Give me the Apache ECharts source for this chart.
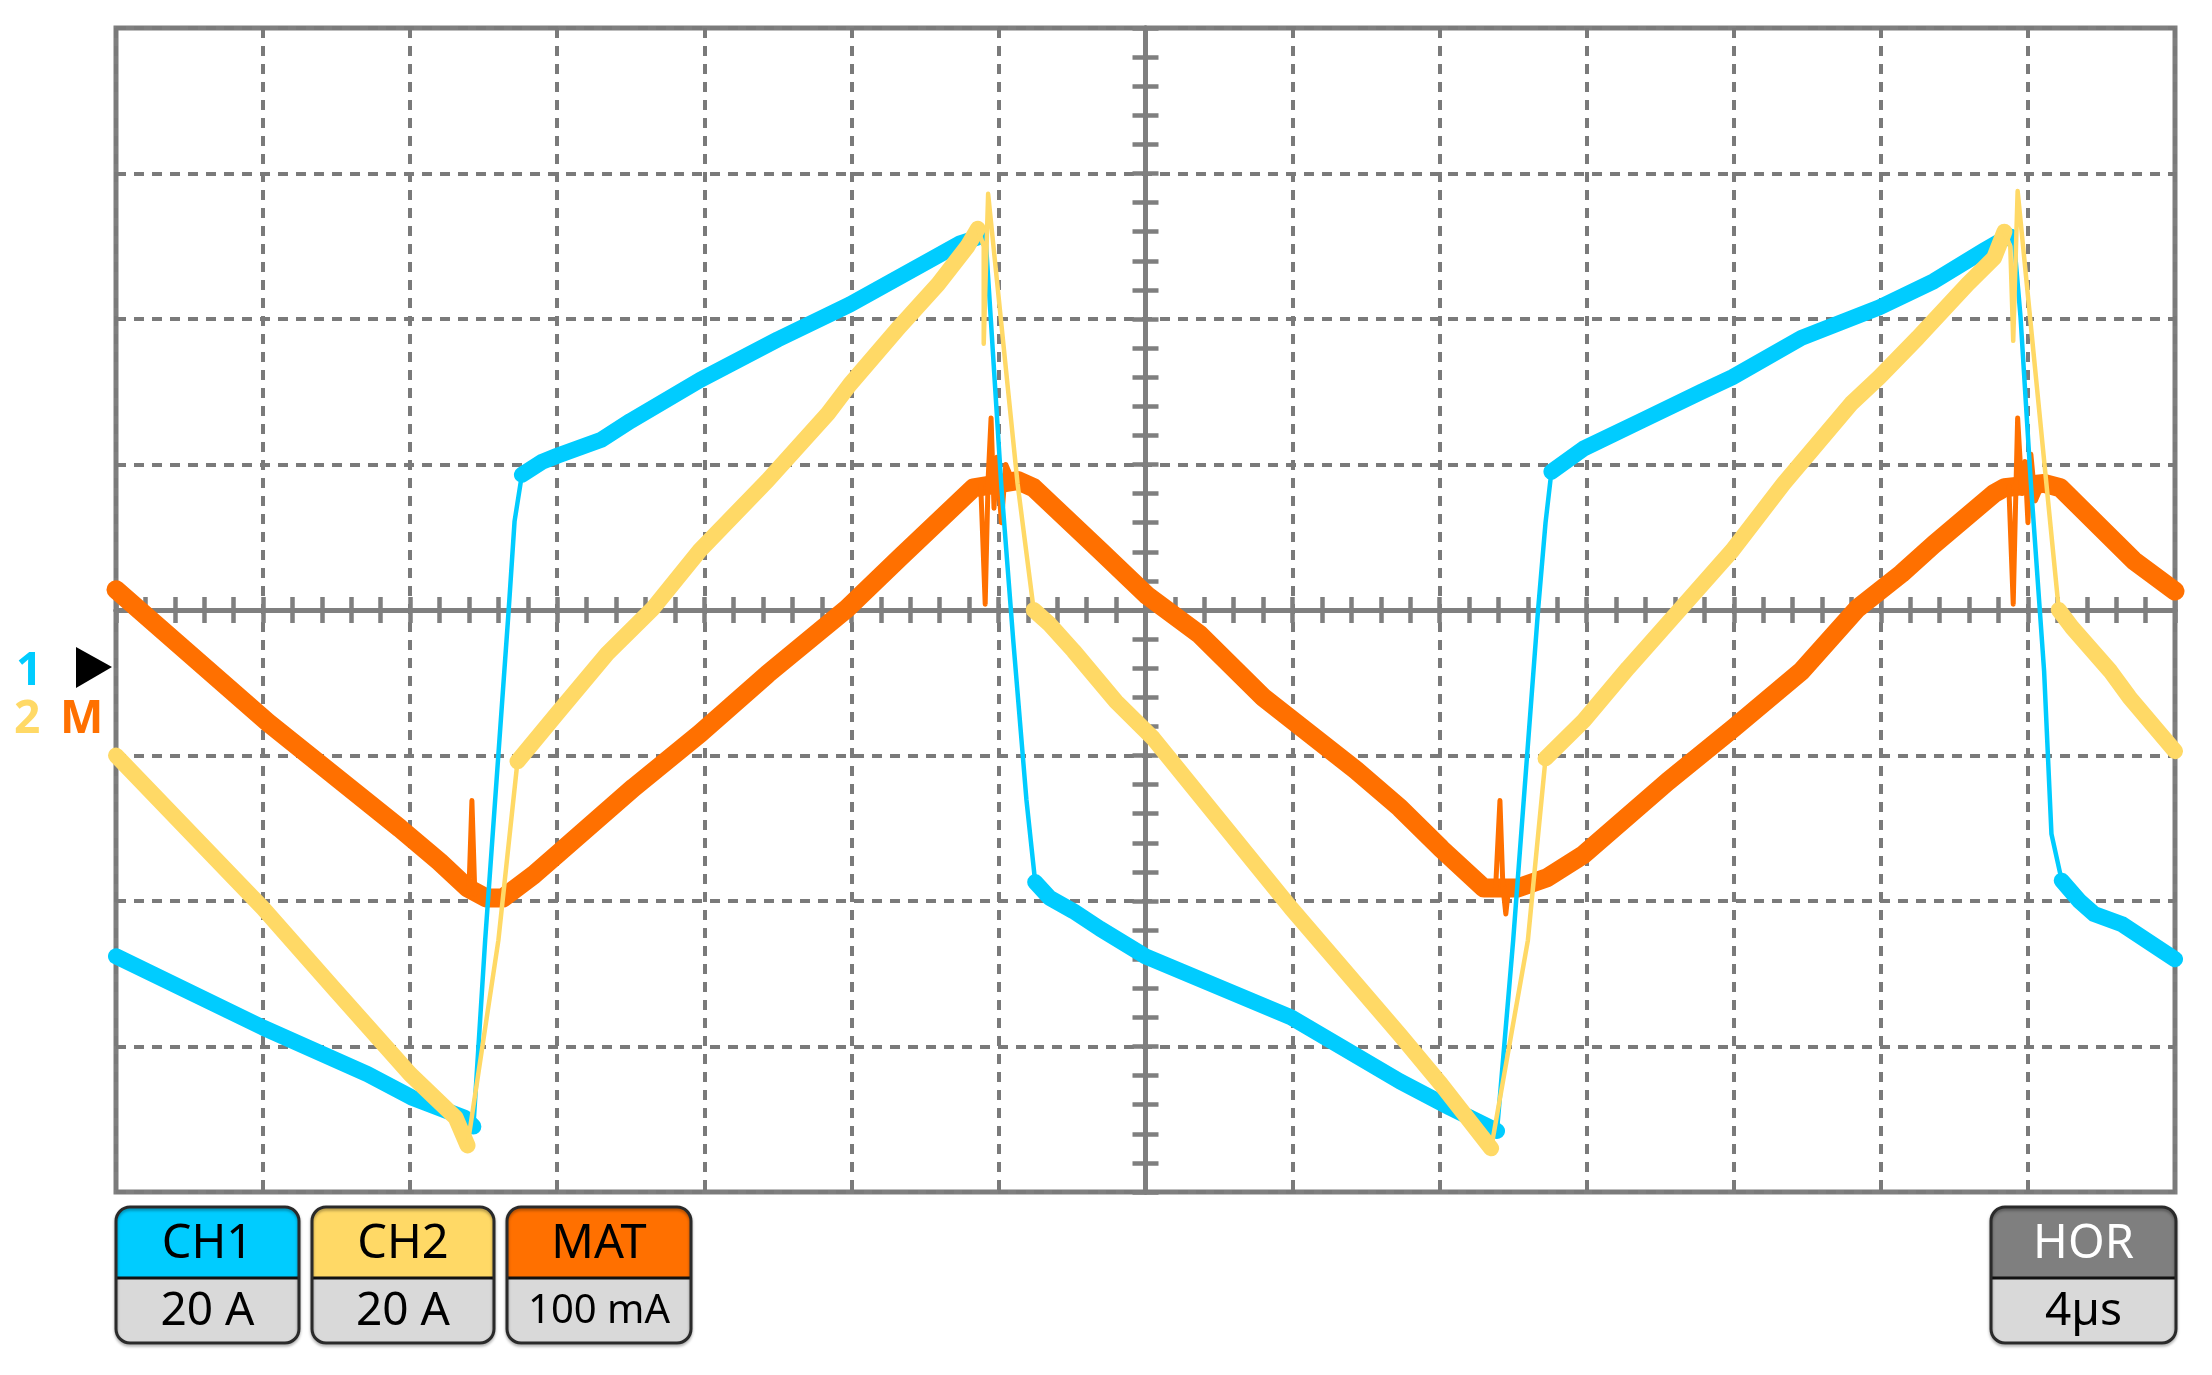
<!DOCTYPE html>
<html>
<head>
<meta charset="utf-8">
<title>Scope capture</title>
<script src="https://cdn.jsdelivr.net/npm/echarts@6.0.0/dist/echarts.min.js"></script>
<style>
  html, body { margin: 0; background: #fff; }
  #chart { width: 2212px; height: 1375px; }
</style>
</head>
<body>
<div id="chart"></div>
<script>
// trace points in screen divisions: x = 0..14 from the left edge, y = -4..4 from centre
const ch1Slow = [
  [[0, -2.38], [1.0, -2.87], [1.71, -3.19], [2.01, -3.35], [2.37, -3.49], [2.43, -3.55]],
  [[2.76, 0.93], [2.9, 1.02], [3.0, 1.06], [3.3, 1.17], [3.5, 1.3], [3.97, 1.58], [4.5, 1.86], [4.99, 2.1], [5.56, 2.42], [5.74, 2.52], [5.86, 2.56]],
  [[6.25, -1.87], [6.35, -1.98], [6.51, -2.07], [6.69, -2.19], [7.0, -2.38], [7.99, -2.8], [8.73, -3.24], [9.07, -3.42], [9.39, -3.58]],
  [[9.76, 0.95], [9.98, 1.11], [10.37, 1.3], [10.78, 1.5], [10.99, 1.6], [11.46, 1.87], [11.99, 2.08], [12.36, 2.26], [12.7, 2.47], [12.87, 2.57]],
  [[13.23, -1.86], [13.35, -2.0], [13.45, -2.09], [13.64, -2.16], [14.0, -2.4]]
]
const ch1Fast = [
  [[2.43, -3.55], [2.51, -2.27], [2.67, 0.0], [2.71, 0.61], [2.76, 0.93]],
  [[5.86, 2.56], [5.91, 2.6], [5.95, 1.97], [6.02, 0.85], [6.1, -0.2], [6.19, -1.3], [6.25, -1.87]],
  [[9.39, -3.58], [9.5, -2.27], [9.67, 0.01], [9.72, 0.6], [9.76, 0.95]],
  [[12.87, 2.57], [12.9, 2.6], [12.95, 2.01], [13.02, 0.87], [13.08, 0.01], [13.11, -0.42], [13.16, -1.54], [13.23, -1.86]]
]

const ch2Slow = [
  [[0, -1.0], [0.8, -1.84], [1.0, -2.05], [1.48, -2.6], [2.0, -3.19], [2.31, -3.49], [2.39, -3.68]],
  [[2.73, -1.04], [3.0, -0.71], [3.34, -0.3], [3.65, 0.01], [3.97, 0.41], [4.43, 0.89], [4.84, 1.35], [4.99, 1.55], [5.33, 1.95], [5.59, 2.24], [5.79, 2.5], [5.86, 2.62]],
  [[6.24, 0.0], [6.35, -0.1], [6.51, -0.28], [6.8, -0.63], [7.05, -0.88], [7.99, -2.05], [8.73, -2.92], [9.01, -3.26], [9.35, -3.7]],
  [[9.72, -1.02], [9.98, -0.76], [10.28, -0.4], [10.64, 0.01], [10.99, 0.41], [11.34, 0.87], [11.8, 1.42], [11.99, 1.6], [12.25, 1.87], [12.59, 2.24], [12.77, 2.42], [12.84, 2.6]],
  [[13.21, 0.0], [13.3, -0.12], [13.56, -0.42], [13.69, -0.6], [14.0, -0.97]]
]
const ch2Fast = [
  [[2.39, -3.68], [2.6, -2.27], [2.73, -1.04]],
  [[5.86, 2.62], [5.9, 2.5], [5.9, 1.83], [5.93, 2.86], [6.13, 0.87], [6.24, 0.0]],
  [[9.35, -3.7], [9.6, -2.27], [9.72, -1.02]],
  [[12.84, 2.6], [12.88, 2.5], [12.9, 1.85], [12.93, 2.88], [13.21, 0.0]]
]

const matSlow = [
  [[0, 0.14], [1.03, -0.77], [1.93, -1.5], [2.2, -1.73], [2.39, -1.91], [2.52, -1.98], [2.63, -1.98], [2.84, -1.82], [3.0, -1.68],
   [3.52, -1.22], [3.97, -0.85], [4.43, -0.44], [4.97, 0.01], [5.33, 0.36], [5.83, 0.84], [6.13, 0.89], [6.24, 0.84], [6.69, 0.41],
   [7.01, 0.1], [7.37, -0.17], [7.8, -0.6], [8.43, -1.1], [8.73, -1.36], [9.01, -1.64], [9.3, -1.91], [9.53, -1.91], [9.73, -1.84],
   [9.98, -1.68], [10.55, -1.18], [11.0, -0.81], [11.46, -0.42], [11.84, 0.01], [12.14, 0.25], [12.36, 0.45], [12.77, 0.8],
   [12.84, 0.84], [13.11, 0.87], [13.22, 0.84], [13.5, 0.56], [13.72, 0.34], [14.0, 0.13]]
]
const matSpikes = [
  [[2.4, -1.92], [2.42, -1.31], [2.44, -1.95]],
  [[5.88, 0.85], [5.91, 0.04], [5.93, 0.9], [5.95, 1.32], [5.97, 0.7], [5.99, 1.05], [6.02, 0.6], [6.05, 1.0], [6.1, 0.88]],
  [[9.38, -1.92], [9.41, -1.31], [9.43, -1.9], [9.45, -2.09], [9.47, -1.9]],
  [[12.87, 0.85], [12.9, 0.04], [12.92, 0.9], [12.93, 1.32], [12.96, 0.8], [12.98, 1.02], [13.0, 0.6], [13.02, 1.07], [13.05, 0.75], [13.1, 0.87]]
]

// bottom readout boxes
const boxTitles = ['CH1', 'CH2', 'MAT', 'HOR']
const boxValues = ['20 A', '20 A', '100 mA', '4µs']

const COLOR_CH1 = '#00ccff'
const COLOR_CH2 = '#ffd966'
const COLOR_MAT = '#ff7000'
const COLOR_HOR = '#7f7f7f'
const GRAY = '#7f7f7f'
const FONT = '"Noto Sans", "Open Sans", sans-serif'
const CENTRE = 7

function join(segments) {
  const out = []
  segments.forEach((seg, i) => {
    if (i) out.push([null, null])
    seg.forEach(([d, v]) => out.push([d - CENTRE, v]))
  })
  return out
}

function centreAxis(min, max, position, withGrid) {
  return {
    type: 'value', min, max, interval: 1, position,
    axisLine: { onZero: true, onZeroAxisIndex: 0, lineStyle: { color: GRAY, width: 5 } },
    axisTick: { show: true, inside: false, length: 13, lineStyle: { color: GRAY, width: 4.5 } },
    minorTick: { show: true, splitNumber: 5, length: 13, lineStyle: { color: GRAY, width: 4.5 } },
    axisLabel: { show: false },
    splitLine: { show: withGrid, lineStyle: { color: '#7a7a7a', width: 4, type: [10, 8] } }
  }
}

function trace(name, segments, color, width, z) {
  return {
    name, type: 'line', data: join(segments), z,
    showSymbol: false, symbol: 'none', connectNulls: false,
    lineStyle: { color, width, join: 'round', cap: 'round' }
  }
}

function readout(i, x, w, fill, titleColor) {
  const top = 1207, mid = 1278, bottom = 1343, r = 14
  return {
    type: 'group', x, y: top,
    children: [
      { type: 'rect', shape: { x: 0, y: 0, width: w, height: mid - top, r: [r, r, 0, 0] }, style: { fill } },
      { type: 'rect', shape: { x: 0, y: mid - top, width: w, height: bottom - mid, r: [0, 0, r, r] }, style: { fill: '#d9d9d9' } },
      { type: 'line', shape: { x1: 0, y1: mid - top, x2: w, y2: mid - top }, style: { stroke: '#111', lineWidth: 3 } },
      { type: 'rect', shape: { x: 0, y: 0, width: w, height: bottom - top, r },
        style: { fill: null, stroke: '#2a2a2a', lineWidth: 3, shadowBlur: 3, shadowOffsetY: 2, shadowColor: 'rgba(0,0,0,0.35)' } },
      { type: 'text', x: w / 2, y: (mid - top) / 2 + 2,
        style: { text: boxTitles[i], fill: titleColor, fontSize: 47, fontFamily: FONT, align: 'center', verticalAlign: 'middle' } },
      { type: 'text', x: w / 2, y: mid - top + (bottom - mid) / 2 + 1,
        style: { text: boxValues[i], fill: '#000', fontSize: boxValues[i].length > 5 ? 40 : 46, fontFamily: FONT, align: 'center', verticalAlign: 'middle' } }
    ]
  }
}

const chart = echarts.init(document.getElementById('chart'))
chart.setOption({
  animation: false,
  backgroundColor: '#fff',
  grid: { left: 116, top: 28, right: 37, bottom: 183, show: true, borderColor: GRAY, borderWidth: 5 },
  xAxis: [centreAxis(-7, 7, 'bottom', true), centreAxis(-7, 7, 'top', false)],
  yAxis: [centreAxis(-4, 4, 'left', true), centreAxis(-4, 4, 'right', false)],
  series: [
    trace('MAT', matSlow, COLOR_MAT, 19, 2),
    trace('MAT spikes', matSpikes, COLOR_MAT, 5, 2),
    trace('CH1', ch1Slow, COLOR_CH1, 16, 3),
    trace('CH1 edges', ch1Fast, COLOR_CH1, 4.5, 3),
    trace('CH2', ch2Slow, COLOR_CH2, 16, 4),
    trace('CH2 edges', ch2Fast, COLOR_CH2, 4.5, 4)
  ],
  graphic: [
    readout(0, 116, 183, COLOR_CH1, '#000'),
    readout(1, 312, 182, COLOR_CH2, '#000'),
    readout(2, 507, 184, COLOR_MAT, '#000'),
    readout(3, 1991, 185, COLOR_HOR, '#fff'),
    { type: 'text', x: 16, y: 672, style: { text: '1', fill: COLOR_CH1, fontSize: 46, fontWeight: 'bold', fontFamily: FONT, verticalAlign: 'middle' } },
    { type: 'text', x: 14, y: 720, style: { text: '2', fill: COLOR_CH2, fontSize: 46, fontWeight: 'bold', fontFamily: FONT, verticalAlign: 'middle' } },
    { type: 'text', x: 60, y: 720, style: { text: 'M', fill: COLOR_MAT, fontSize: 46, fontWeight: 'bold', fontFamily: FONT, verticalAlign: 'middle' } },
    { type: 'polygon', shape: { points: [[76, 647], [112, 667], [76, 688]] }, style: { fill: '#000' } }
  ]
})
</script>
</body>
</html>
